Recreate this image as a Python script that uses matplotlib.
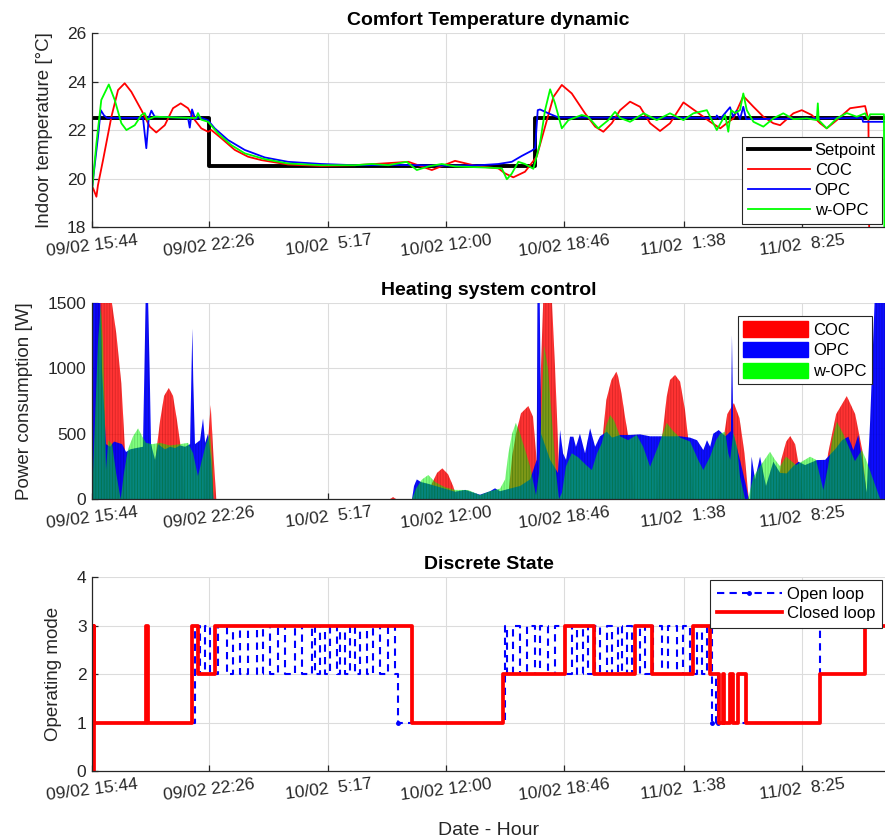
import matplotlib
matplotlib.use('Agg')
import matplotlib.pyplot as plt
from matplotlib.patches import Patch

# x axis: hours since 09/02 15:44
tick_pos = [0, 6.70, 13.55, 20.27, 27.03, 33.90, 40.68]
tick_labels = ['09/02 15:44', '09/02 22:26', '10/02  5:17', '10/02 12:00',
               '10/02 18:46', '11/02  1:38', '11/02  8:25']
t_end = 45.44

# ---- indoor temperature [C] ----
sp_t = [0, 6.70, 25.39, 45.44]
sp_v = [22.5, 20.5, 22.5, 22.5]

coc_t = [0.06, 0.25, 0.34, 0.63, 1.11, 1.49, 1.87, 2.25, 2.83, 3.31, 3.68, 4.17, 4.64, 5.08,
         5.50, 5.89, 6.26, 6.65, 6.84, 7.41, 8.18, 8.94, 9.70, 11.23, 13.12, 15.05, 16.22,
         18.13, 19.47, 20.80, 22.14, 23.28, 23.67, 24.14, 24.81, 25.48, 25.96, 26.44, 26.92,
         27.49, 28.25, 28.83, 29.30, 29.78, 30.26, 30.83, 31.40, 31.98, 32.55, 33.12, 33.89,
         34.65, 35.42, 36.00, 36.37, 36.75, 37.32, 37.90, 38.47, 39.04, 39.43, 40.19, 40.67,
         41.24, 41.72, 42.10, 42.68, 43.44, 44.30, 44.49, 44.56, 45.44]
coc_v = [19.6, 19.25, 19.73, 20.76, 22.55, 23.65, 23.93, 23.58, 22.82, 22.14, 21.9, 22.2, 22.9,
         23.1, 22.9, 22.41, 22.07, 21.93, 22.0, 21.66, 21.18, 20.9, 20.76, 20.58, 20.52, 20.55,
         20.6, 20.69, 20.35, 20.73, 20.5, 20.42, 20.21, 20.05, 20.28, 20.9, 22.14, 23.37, 23.86,
         23.51, 22.69, 22.14, 21.93, 22.28, 22.82, 23.17, 22.96, 22.28, 21.96, 22.28, 23.14,
         22.75, 22.34, 22.07, 22.28, 22.48, 23.4, 22.96, 22.55, 22.28, 22.2, 22.69, 22.82,
         22.62, 22.28, 22.07, 22.41, 22.9, 22.99, 22.41, 15.0, 15.0]

opc_t = [0.0, 0.34, 0.50, 0.69, 0.86, 2.92, 3.11, 3.25, 3.40, 3.59, 5.50, 5.60, 5.73, 5.92,
         6.13, 6.65, 7.03, 7.79, 8.75, 9.90, 11.23, 13.14, 15.05, 17.65, 20.52, 22.23, 23.28,
         24.05, 24.62, 25.20, 25.39, 25.54, 25.67, 26.15, 26.72, 35.76, 35.80, 35.99, 36.56,
         36.73, 36.94, 37.13, 37.32, 37.48, 44.13, 44.18, 45.44]
opc_v = [19.6, 21.72, 22.82, 22.6, 22.5, 22.5, 21.25, 22.5, 22.8, 22.55, 22.5, 22.1, 22.85,
         22.44, 22.54, 22.4, 22.07, 21.59, 21.18, 20.87, 20.69, 20.6, 20.55, 20.56, 20.53, 20.55,
         20.6, 20.69, 20.93, 21.15, 21.25, 22.82, 22.85, 22.69, 22.52, 22.5, 22.6, 22.45, 22.94,
         22.55, 22.8, 22.45, 22.96, 22.45, 22.5, 22.34, 22.34]

wopc_t = [0.0, 0.25, 0.53, 0.96, 1.30, 1.68, 1.97, 2.45, 2.83, 3.02, 3.17, 3.59, 5.62, 5.96,
          6.07, 6.25, 6.65, 7.22, 7.98, 8.75, 9.90, 11.23, 13.12, 15.07, 16.03, 16.98, 18.03,
          18.61, 19.27, 20.04, 20.80, 22.71, 23.48, 23.77, 24.05, 24.43, 24.81, 25.29, 25.67,
          25.96, 26.25, 26.53, 26.92, 27.30, 28.06, 28.42, 29.01, 29.57, 29.97, 30.26, 30.83,
          31.61, 32.36, 33.12, 33.89, 34.46, 35.23, 35.80, 36.28, 36.46, 36.62, 36.85, 37.13,
          37.32, 37.52, 37.90, 38.47, 39.04, 39.61, 40.19, 40.96, 41.53, 41.59, 41.64, 42.10,
          42.68, 43.25, 43.82, 44.30, 44.47, 44.59, 45.38, 45.42, 45.44]
wopc_v = [19.5, 21.45, 23.24, 23.88, 23.24, 22.28, 22.0, 22.2, 22.62, 22.7, 22.43, 22.55, 22.5,
          22.5, 22.7, 22.43, 22.34, 21.86, 21.38, 21.04, 20.8, 20.62, 20.55, 20.55, 20.6, 20.55,
          20.69, 20.35, 20.5, 20.6, 20.5, 20.45, 20.42, 19.97, 20.2, 20.69, 20.6, 20.4, 21.45,
          22.82, 23.68, 23.1, 22.07, 22.41, 22.62, 22.55, 22.07, 22.4, 22.75, 22.5, 22.34, 22.69,
          22.41, 22.69, 22.41, 22.69, 22.82, 22.0, 22.62, 21.93, 22.82, 22.7, 22.82, 23.51, 22.82,
          22.34, 22.14, 22.48, 22.69, 22.45, 22.48, 22.41, 23.1, 22.41, 22.07, 22.48, 22.7, 22.55,
          22.69, 22.45, 22.65, 22.65, 15.0, 15.0]

# ---- power consumption [W] ----
coc_pt = [0, 0.11, 0.23, 0.69, 1.03, 1.39, 1.68, 1.89, 2.06, 3.44, 3.67, 3.90, 4.13, 4.40,
          4.64, 4.87, 5.10, 5.33, 6.42, 6.65, 6.80, 6.93, 7.12, 17.08, 17.25, 17.42, 19.25,
          19.48, 19.77, 20.07, 20.40, 20.69, 20.92, 23.84, 24.07, 24.30, 24.58, 25.0, 25.27,
          25.48, 25.59, 25.67, 25.85, 26.07, 26.36, 26.53, 26.72, 26.82, 29.11, 29.28, 29.47,
          29.76, 30.05, 30.15, 30.34, 30.54, 30.73, 30.96, 31.13, 32.32, 32.65, 32.93, 33.12,
          33.41, 33.70, 33.98, 34.17, 34.38, 34.50, 35.89, 36.12, 36.40, 36.78, 37.10, 37.39,
          37.63, 39.26, 39.49, 39.78, 40.01, 40.29, 40.58, 40.75, 41.83, 42.18, 42.64, 43.25,
          43.73, 44.13, 44.41, 45.44]
coc_pv = [0, 1000, 1600, 1700, 1600, 1268, 885, 375, 0, 0, 350, 600, 790, 850,
          790, 600, 380, 0, 0, 450, 720, 400, 0, 0, 15, 0, 0,
          120, 200, 235, 190, 100, 0, 0, 324, 503, 656, 712, 630,
          298, 250, 800, 1500, 1700, 1500, 1012, 375, 0, 0, 503, 758,
          911, 975, 936, 809, 630, 478, 200, 0, 0, 450, 783, 911,
          950, 898, 681, 451, 150, 0, 0, 400, 650, 735, 620, 350,
          0, 0, 300, 440, 482, 420, 200, 0, 0, 350, 650, 788,
          650, 380, 0, 0]

opc_pt = [0, 0.46, 0.57, 0.80, 1.03, 1.26, 1.49, 1.72, 1.95, 2.18, 2.52, 2.92, 3.07, 3.18,
          3.30, 3.38, 3.61, 3.78, 4.18, 4.47, 4.76, 5.04, 5.33, 5.62, 5.70, 5.75, 5.80, 5.90,
          6.19, 6.36, 6.48, 6.65, 6.82, 6.96, 18.34, 18.45, 18.61, 18.85, 19.25, 19.94, 20.80,
          21.38, 22.23, 22.81, 23.09, 23.38, 23.95, 24.53, 25.10, 25.48, 25.53, 25.65, 25.73,
          26.25, 26.70, 26.82, 26.99, 27.16, 27.39, 27.58, 27.73, 27.96, 28.25, 28.54, 28.83,
          29.11, 29.50, 29.80, 30.26, 30.83, 31.40, 31.98, 32.55, 33.12, 33.70, 34.27, 34.67,
          35.03, 35.24, 35.42, 35.60, 35.91, 36.30, 36.61, 36.67, 36.75, 37.13, 37.48, 37.63,
          37.71, 37.80, 37.99, 38.28, 38.62, 39.04, 39.43, 39.81, 40.17, 40.48, 40.86, 41.53,
          42.01, 42.58, 42.98, 43.34, 43.63, 43.91, 44.13, 44.39, 44.59, 44.87, 45.44]
opc_pv = [1600, 1600, 1000, 420, 400, 440, 430, 420, 360, 380, 390, 400, 1500, 1700,
          1000, 420, 300, 420, 380, 400, 390, 410, 400, 420, 1000, 1306, 900, 420,
          450, 617, 430, 500, 300, 0, 0, 100, 150, 130, 117, 90, 56,
          70, 33, 60, 82, 60, 80, 100, 150, 300, 1600, 1600, 500,
          300, 200, 528, 350, 300, 477, 477, 400, 500, 350, 541, 400,
          480, 515, 470, 490, 490, 495, 480, 480, 480, 480, 470, 450,
          375, 450, 400, 500, 528, 480, 520, 1255, 500, 300, 100, 0,
          0, 324, 150, 324, 100, 285, 200, 196, 250, 285, 260, 298,
          300, 380, 450, 477, 375, 490, 300, 50, 600, 1600, 1600]

wopc_pt = [0, 0.17, 0.34, 0.50, 0.63, 0.74, 0.80, 0.93, 1.15, 1.38, 1.64, 1.83, 2.06, 2.35,
           2.64, 2.87, 3.09, 3.44, 3.90, 4.47, 5.04, 5.50, 5.79, 6.07, 6.30, 6.53, 6.76, 6.88,
           6.96, 18.34, 18.57, 18.91, 19.27, 19.66, 20.23, 20.80, 21.55, 22.23, 22.81, 23.38,
           23.67, 23.86, 24.07, 24.29, 24.53, 24.81, 25.10, 25.44, 25.62, 25.73, 25.90, 26.13,
           26.36, 26.59, 26.76, 26.93, 27.16, 27.49, 27.85, 28.31, 28.64, 28.94, 29.21, 29.46,
           29.69, 29.92, 30.26, 30.72, 31.21, 31.58, 31.98, 32.43, 32.93, 33.30, 33.70, 34.27,
           34.73, 35.03, 35.42, 35.76, 35.99, 36.28, 36.46, 36.57, 36.75, 36.96, 37.13, 37.42,
           37.59, 37.90, 38.28, 38.85, 39.14, 39.43, 39.77, 40.34, 41.15, 41.49, 41.91, 42.18,
           42.41, 42.68, 43.04, 43.44, 43.72, 44.11, 44.36, 44.76, 45.16, 45.44]
wopc_pv = [0, 600, 1200, 1480, 1200, 600, 222, 450, 420, 200, 0, 200, 380, 480,
           541, 480, 430, 420, 430, 410, 420, 430, 350, 175, 300, 420, 500, 300,
           0, 0, 80, 150, 184, 130, 90, 70, 69, 30, 60, 80,
           150, 350, 500, 584, 500, 380, 250, 30, 200, 600, 1178, 1000,
           600, 200, 0, 50, 250, 350, 320, 260, 222, 350, 426, 560,
           643, 600, 480, 450, 490, 400, 247, 400, 584, 520, 470, 440,
           300, 222, 325, 450, 500, 515, 350, 300, 510, 400, 171, 0,
           0, 171, 250, 362, 300, 250, 325, 260, 324, 300, 69, 250,
           450, 592, 500, 375, 290, 375, 300, 150, 0, 0]

# ---- operating mode ----
cl_t = [0, 0.09, 0.14, 3.09, 3.21, 5.71, 6.09, 7.05, 18.32, 23.57, 27.11, 28.77, 31.12,
        32.07, 34.42, 35.42, 35.93, 36.13, 36.19, 36.56, 36.73, 37.00, 37.45, 41.72, 44.30,
        45.44]
cl_v = [0, 3, 1, 3, 1, 3, 2, 3, 1, 2, 3, 2, 3,
        2, 3, 2, 1, 2, 1, 2, 1, 2, 1, 2, 3,
        3]

ol_t = [0, 5.90, 6.19, 6.48, 6.76, 7.24, 7.72, 8.10, 8.48, 8.96, 9.44, 9.82, 10.20, 10.68,
        11.06, 11.63, 12.02, 12.59, 12.78, 13.07, 13.35, 13.64, 14.02, 14.21, 14.50, 14.79,
        15.07, 15.36, 15.74, 16.12, 16.50, 16.98, 17.36, 17.55,
        23.67, 23.76, 24.14, 24.53, 24.91, 25.39, 25.67, 26.15, 26.53, 27.11, 27.49, 27.78,
        28.15, 28.44, 28.83, 29.11, 29.50, 29.78, 30.16, 30.36, 30.64, 30.93, 31.40, 31.69,
        32.17, 32.65, 33.03, 33.51, 33.89, 34.27, 34.65, 34.94, 35.23, 35.51, 35.75, 35.85,
        41.72, 45.44]
ol_v = [1, 3, 2, 3, 2, 3, 2, 3, 2, 3, 2, 3, 2, 3,
        2, 3, 2, 3, 2, 3, 2, 3, 2, 3, 2, 3,
        2, 3, 2, 3, 2, 3, 2, 1,
        3, 2, 3, 2, 3, 2, 3, 2, 3, 2, 3, 2,
        3, 2, 3, 2, 3, 2, 3, 2, 3, 2, 3, 2,
        3, 2, 3, 2, 3, 2, 3, 2, 3, 1, 2, 1,
        3, 3]

RED = '#ff0000'
BLUE = '#0000ff'
GREEN = '#00ff00'
DARK = '#262626'

plt.rcParams['font.family'] = ['Liberation Sans', 'DejaVu Sans']
plt.rcParams['hatch.linewidth'] = 0.6


def style_axes(ax):
    ax.set_xlim(0, t_end)
    ax.set_xticks(tick_pos)
    ax.set_xticklabels(tick_labels, rotation=7, ha='center')
    ax.grid(True, color='#dcdcdc', lw=0.8)
    ax.set_axisbelow(True)
    for s in ['top', 'right']:
        ax.spines[s].set_visible(False)
    for s in ['left', 'bottom']:
        ax.spines[s].set_color(DARK)
        ax.spines[s].set_linewidth(0.9)
    ax.tick_params(direction='in', length=4, width=0.9, colors=DARK,
                   labelsize=12.5, labelcolor=DARK, pad=4)


def style_legend(leg):
    leg.get_frame().set_edgecolor(DARK)
    leg.get_frame().set_linewidth(0.8)


fig = plt.figure(figsize=(8.85, 8.39), dpi=100)
ax1 = fig.add_axes([0.104, 0.7294, 0.896, 0.2312])
ax2 = fig.add_axes([0.104, 0.4052, 0.896, 0.2336])
ax3 = fig.add_axes([0.104, 0.0810, 0.896, 0.2312])

# top: temperature
ax1.plot(sp_t, sp_v, color='black', lw=2.8, drawstyle='steps-post', label='Setpoint')
ax1.plot(coc_t, coc_v, color=RED, lw=1.3, label='COC')
ax1.plot(opc_t, opc_v, color=BLUE, lw=1.3, label='OPC')
ax1.plot(wopc_t, wopc_v, color=GREEN, lw=1.3, label='w-OPC')
ax1.set_ylim(18, 26)
ax1.set_yticks([18, 20, 22, 24, 26])
style_axes(ax1)
ax1.set_title('Comfort Temperature dynamic', fontsize=14, fontweight='bold', pad=6)
ax1.set_ylabel('Indoor temperature [°C]', fontsize=13.5, color=DARK)
ax1.yaxis.set_label_coords(-0.049, 0.5)
leg = ax1.legend(loc='lower right', fontsize=12, handlelength=3.7, labelspacing=0.3,
                 borderaxespad=0.2, fancybox=False, framealpha=1, borderpad=0.35,
                 handletextpad=0.3)
style_legend(leg)

# middle: power (striped areas)
ax2.fill_between(coc_pt, 0, coc_pv, facecolor=(1, 0, 0, 0.8), edgecolor=(0.4, 0, 0, 0.25),
                 hatch='||||||', lw=0)
ax2.fill_between(opc_pt, 0, opc_pv, facecolor=(0, 0, 1, 0.95), edgecolor=(0, 0, 0.3, 0.25),
                 hatch='||||||', lw=0)
ax2.fill_between(wopc_pt, 0, wopc_pv, facecolor=(0, 1, 0, 0.5), edgecolor=(0, 0.25, 0, 0.2),
                 hatch='||||||', lw=0)
ax2.set_ylim(0, 1500)
ax2.set_yticks([0, 500, 1000, 1500])
style_axes(ax2)
ax2.set_title('Heating system control', fontsize=14, fontweight='bold', pad=6)
ax2.set_ylabel('Power consumption [W]', fontsize=13.5, color=DARK)
ax2.yaxis.set_label_coords(-0.074, 0.5)
handles = [Patch(color=RED), Patch(color=BLUE), Patch(color=GREEN)]
leg = ax2.legend(handles, ['COC', 'OPC', 'w-OPC'], loc='upper right', fontsize=12,
                 handlelength=3.9, handleheight=1.05, labelspacing=0.25, borderaxespad=0.8,
                 fancybox=False, framealpha=1, borderpad=0.3, handletextpad=0.3)
style_legend(leg)

# bottom: operating mode
ol_marks = [i for i, v in enumerate(ol_v) if v == 1]
ax3.plot(ol_t, ol_v, color=BLUE, lw=1.5, ls=(0, (3.5, 2.5)), marker='.', ms=5,
         markevery=ol_marks, drawstyle='steps-post', label='Open loop')
ax3.plot(cl_t, cl_v, color=RED, lw=2.7, drawstyle='steps-post', label='Closed loop')
ax3.set_ylim(0, 4)
ax3.set_yticks([0, 1, 2, 3, 4])
style_axes(ax3)
ax3.set_title('Discrete State', fontsize=14, fontweight='bold', pad=6)
ax3.set_ylabel('Operating mode', fontsize=13.5, color=DARK)
ax3.yaxis.set_label_coords(-0.038, 0.5)
ax3.set_xlabel('Date - Hour', fontsize=14, color=DARK, labelpad=14)
leg = ax3.legend(loc='upper right', fontsize=12, handlelength=3.9, labelspacing=0.25,
                 borderaxespad=0.2, fancybox=False, framealpha=1, borderpad=0.4,
                 handletextpad=0.3, numpoints=1)
style_legend(leg)

fig.savefig('out.png', dpi=100)
